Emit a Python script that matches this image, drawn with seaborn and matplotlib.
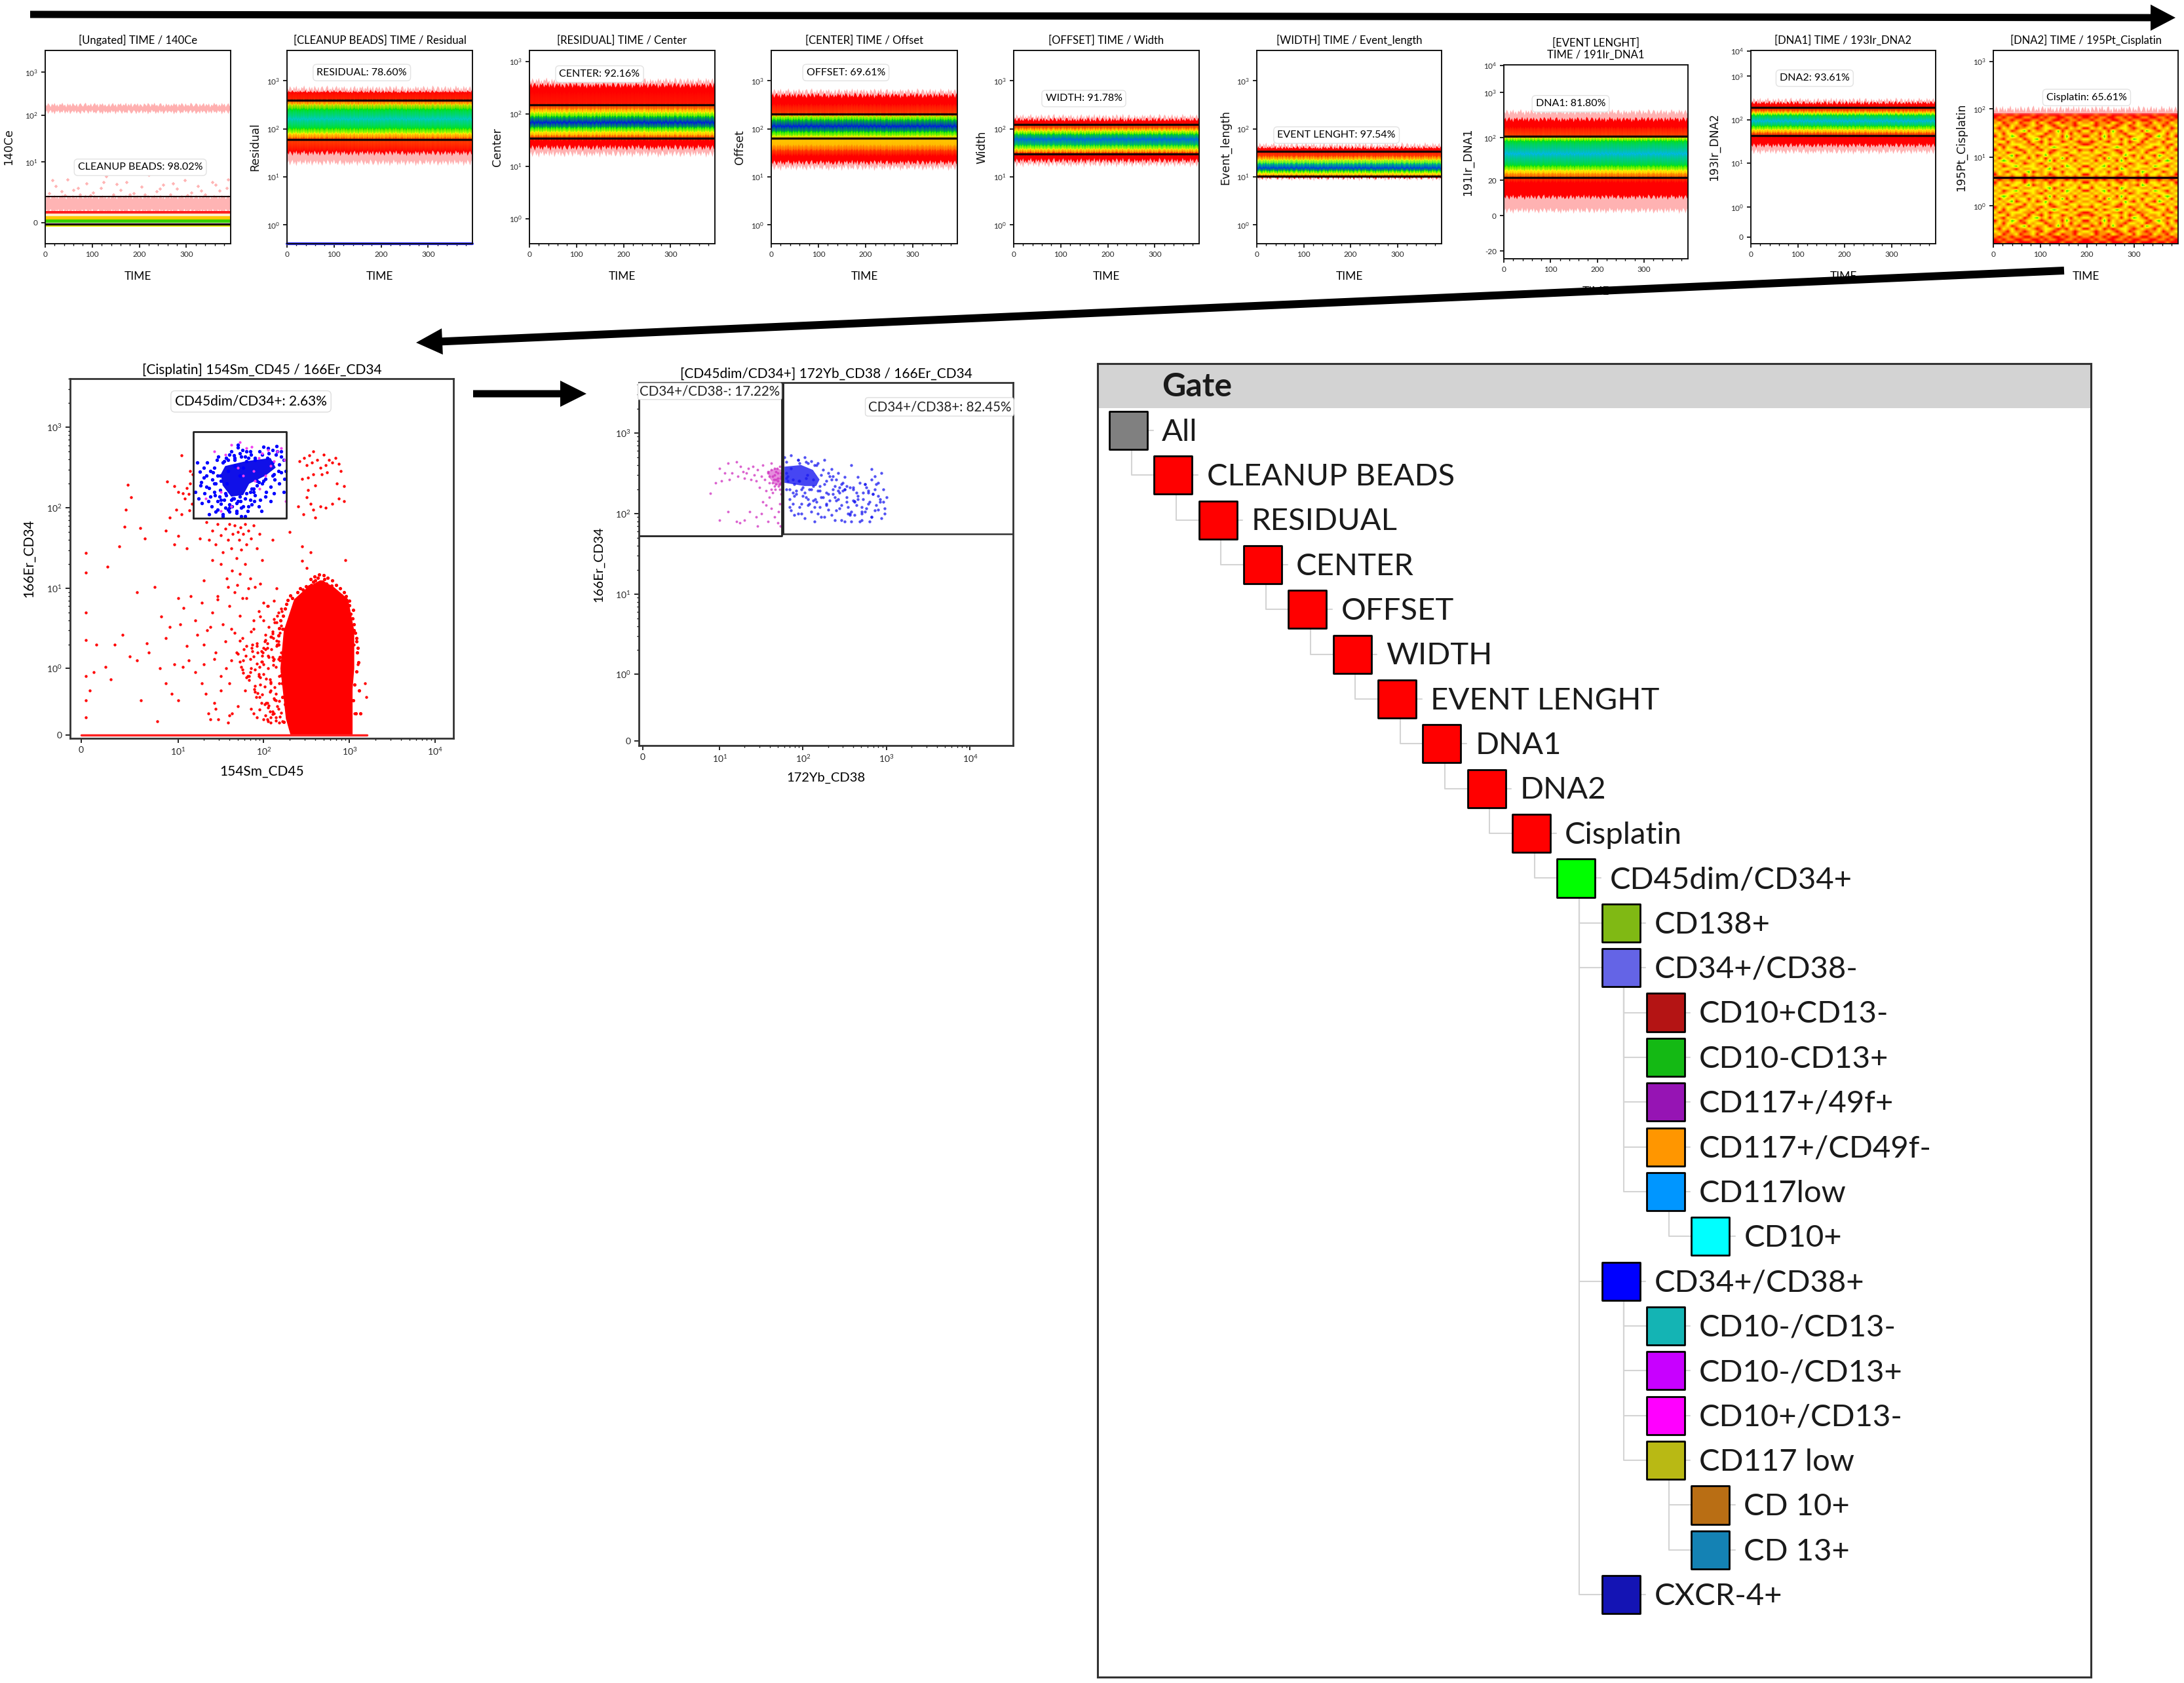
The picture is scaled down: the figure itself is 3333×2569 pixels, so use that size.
import numpy as np
import pandas as pd
import seaborn as sns
from matplotlib import pyplot as plt
from matplotlib.colors import LinearSegmentedColormap
from matplotlib.patches import FancyArrow

sns.set_theme(style='ticks')
plt.rcParams['font.family'] = ['Lato', 'DejaVu Sans']
plt.rcParams['mathtext.default'] = 'regular'

W, H = 3333, 2569

# time strips: one entry per panel
strip_titles = ['[Ungated] TIME / 140Ce', '[CLEANUP BEADS] TIME / Residual', '[RESIDUAL] TIME / Center',
                '[CENTER] TIME / Offset', '[OFFSET] TIME / Width', '[WIDTH] TIME / Event_length',
                '[EVENT LENGHT]\nTIME / 191Ir_DNA1', '[DNA1] TIME / 193Ir_DNA2', '[DNA2] TIME / 195Pt_Cisplatin']
strip_ylabels = ['140Ce', 'Residual', 'Center', 'Offset', 'Width', 'Event_length',
                 '191Ir_DNA1', '193Ir_DNA2', '195Pt_Cisplatin']
strip_gates = ['CLEANUP BEADS: 98.02%', 'RESIDUAL: 78.60%', 'CENTER: 92.16%', 'OFFSET: 69.61%', 'WIDTH: 91.78%',
               'EVENT LENGHT: 97.54%', 'DNA1: 81.80%', 'DNA2: 93.61%', 'Cisplatin: 65.61%']
strip_left = [69, 438, 808, 1177, 1547, 1918, 2295, 2672, 3042]
strip_right = [352, 721, 1091, 1461, 1830, 2200, 2576, 2954, 3324]
strip_top = [77, 77, 77, 77, 77, 77, 99, 77, 77]
strip_bottom = [372, 372, 372, 372, 372, 372, 395, 372, 372]
strip_ylim = [(-0.45, 3.665), (-0.39, 3.63), (-0.48, 3.21), (-0.39, 3.63), (-0.39, 3.63), (-0.39, 3.63),
              (-0.95, 3.34), (-0.835, 3.59), (-0.786, 3.24)]
strip_ticks = [[0, 1.29, 2.29, 3.2], [0, 1, 2, 3], [0, 1, 2, 3], [0, 1, 2, 3], [0, 1, 2, 3], [0, 1, 2, 3],
               [-0.78, 0, 0.787, 1.729, 2.729, 3.33], [-0.685, 0, 1.015, 2, 3, 3.58], [0, 1.02, 2.02, 3.01]]
strip_ticklabels = [['0', '$10^1$', '$10^2$', '$10^3$'], ['$10^0$', '$10^1$', '$10^2$', '$10^3$'],
                    ['$10^0$', '$10^1$', '$10^2$', '$10^3$'], ['$10^0$', '$10^1$', '$10^2$', '$10^3$'],
                    ['$10^0$', '$10^1$', '$10^2$', '$10^3$'], ['$10^0$', '$10^1$', '$10^2$', '$10^3$'],
                    ['-20', '0', '20', '$10^2$', '$10^3$', '$10^4$'],
                    ['0', '$10^0$', '$10^1$', '$10^2$', '$10^3$', '$10^4$'],
                    ['$10^0$', '$10^1$', '$10^2$', '$10^3$']]
ylabel_dist = [47, 40, 40, 39, 40, 39, 46, 47, 40]
gate_high = [0.56, 2.60, 2.175, 2.31, 2.09, 1.53, 1.754, 2.29, 0.59]
gate_low = [-0.03, 1.78, 1.53, 1.80, 1.48, 1.02, 0.85, 1.64, None]
label_x = [202, 159, 149, 158, 149, 170, 143, 136, 199]
label_y = [1.177, 3.17, 2.76, 3.17, 2.63, 1.87, 2.48, 2.955, 2.26]

# outer limits of the red event band (faint fringe and solid part)
fringe_top = [None, 2.84, 2.63, 2.78, 2.25, 1.66, 2.30, 2.45, 2.02]
solid_top = [None, 2.76, 2.55, 2.70, 2.19, 1.60, 2.14, 2.39, None]
solid_bottom = [None, 1.50, 1.36, 1.30, 1.34, 1.00, 0.42, 1.42, None]
fringe_bottom = [None, 1.30, 1.24, 1.20, 1.27, 0.985, 0.12, 1.28, None]

# density level across each band: 0 red, 1 orange, 2 yellow, 3 green, 5 cyan, 6 blue
profile_y = [None,
             [2.75, 2.60, 2.50, 2.40, 2.20, 2.00, 1.90, 1.80, 1.55],
             [2.40, 2.175, 2.08, 2.02, 1.94, 1.83, 1.73, 1.65, 1.58, 1.50],
             [2.50, 2.31, 2.25, 2.18, 2.05, 1.93, 1.85, 1.80, 1.65, 1.55, 1.45],
             [2.15, 2.09, 2.00, 1.95, 1.88, 1.78, 1.65, 1.57, 1.50, 1.45],
             [1.58, 1.53, 1.42, 1.35, 1.27, 1.18, 1.12, 1.07, 1.02, 1.00],
             [1.95, 1.754, 1.72, 1.65, 1.37, 1.10, 1.00, 0.93, 0.85, 0.75],
             [2.35, 2.29, 2.20, 2.15, 2.10, 1.97, 1.85, 1.77, 1.70, 1.62],
             None]
profile_level = [None,
                 [0, 0.3, 1.7, 3, 4.6, 3, 2, 0.6, 0],
                 [0, 0.2, 1, 2, 3, 6, 3, 2, 1, 0],
                 [0, 0.5, 2.2, 3, 6, 3, 2.2, 1.5, 1.3, 0.5, 0],
                 [0, 0.1, 0.8, 2, 3, 5.5, 3.2, 2, 0.5, 0],
                 [0, 0.1, 0.5, 2, 3.5, 5.8, 3, 2, 1, 0],
                 [0, 0.6, 2, 3, 5, 3, 2, 1.2, 0.5, 0],
                 [0, 0.1, 0.7, 2, 3, 5, 3, 2, 0.8, 0],
                 None]

# first strip is built from flat bands instead of a density profile
ungated_lo = [2.36, 0.25, 0.19, 0.13, 0.06, 0.0, -0.09]
ungated_hi = [2.51, 0.55, 0.25, 0.19, 0.13, 0.06, -0.05]
ungated_color = ['#ffb0b0', '#ffb4b4', '#ff2020', '#ffecc8', '#ffc800', '#38d000', '#e8f000']
ungated_sparse_x = [8, 22, 35, 48, 60, 74, 88, 102, 118, 130, 145, 160, 172, 188, 205, 220, 236, 250, 266, 280, 296, 310,
                    324, 340, 355, 370, 385, 15, 42, 70, 96, 124, 152, 180, 212, 244, 272, 302, 332, 362, 388]
ungated_sparse_y = [0.62, 0.78, 0.66, 0.92, 0.7, 0.6, 0.84, 0.64, 0.74, 0.98, 0.6, 0.7, 0.86, 0.62, 0.76, 1.02, 0.66, 0.8,
                    0.6, 0.72, 0.9, 0.64, 0.78, 0.6, 0.86, 0.68, 0.74, 0.9, 0.58, 0.74, 0.58, 0.86, 0.82, 0.6, 0.6,
                    0.72, 0.84, 0.58, 0.68, 0.8, 0.92]

# top and bottom outline of the event band along TIME
ripple_a = [0.4, -0.5, 0.8, 0.1, -0.9, 0.6, -0.2, 0.9, -0.6, 0.3, -0.8, 0.5, 0.0, 1.0, -0.4, 0.2,
            -1.0, 0.7, -0.3, 0.5, -0.7, 0.9, 0.1, -0.5, 0.6, -0.9, 0.3, 0.8, -0.2, -0.7, 0.4, 1.0,
            -0.6, 0.1, -0.4, 0.7, -0.8, 0.2, 0.9, -0.3, 0.5, -1.0, 0.6, -0.1, 0.8, -0.5, 0.3, -0.7]
ripple_b = [-0.3, 0.7, -0.8, 0.2, 0.9, -0.5, 0.4, -1.0, 0.6, 0.0, 0.8, -0.6, 0.3, -0.2, 1.0, -0.7,
            0.5, -0.4, 0.9, -0.9, 0.1, 0.6, -0.3, 0.8, -0.7, 0.4, -0.1, -0.9, 0.7, 0.2, -0.5, 0.9,
            0.3, -0.8, 0.6, -0.2, 1.0, -0.4, 0.1, -0.7, 0.5, 0.8, -0.6, 0.2, -1.0, 0.7, -0.3, 0.4]
edge_a = np.array(ripple_a + ripple_b + ripple_a[::-1])
edge_b = np.array(ripple_b + ripple_a[::-1] + ripple_b[::-1])

# cisplatin strip density, top to bottom, 0 red to 3 green
cisplatin_density = ['0010010001001000100100',
                     '0101100110010110011010',
                     '1011011001101100101101',
                     '1201120112021012011021',
                     '2110211012102101211012',
                     '1021201121012210102120',
                     '2112012302112013021102',
                     '1202211021220112120211',
                     '0211320122101212031120',
                     '2102112012312021120212',
                     '1220211202102122012101',
                     '2011222110212011221210',
                     '1202102212021232102022',
                     '0212210121102101221201',
                     '2120122021222012102212',
                     '1212301212013122120121',
                     '2021212202120211302112',
                     '1232021121221302112021',
                     '2112212012102121221212',
                     '1201231222120212032120',
                     '2122102112212301212202',
                     '1210221230112122021212',
                     '0212122021212012122120',
                     '1011011010110101101011']

# CD45 / CD34 plot, log10 of the event positions
red_x = [2.42, 2.47, 2.5, 2.53, 2.56, 2.58, 2.62, 2.66, 2.7, 2.72, 2.76, 2.8, 2.84, 2.88, 2.9, 2.74, 2.68, 2.58,
         2.52, 2.45, 2.94, 2.85, 2.6, 2.52, 2.5, 2.55, 2.58, 2.66, 2.72, 2.8, 2.88, 2.94, 2.46, 2.6, 2.4,
         1.04, 0.87, 0.95, 1.0, 1.05, 1.12, 1.14, 1.1, 1.08, 0.98, 1.04, 1.13, 1.16, 0.9, 1.17, 1.14,
         0.38, 0.42, 0.35, 0.33, 0.54, 0.6, -0.76, 0.25, 0.05, 0.85, 0.95, 1.0, 1.1, 1.25,
         1.33, 1.36, 1.4, 1.44, 1.46, 1.5, 1.52, 1.55, 1.58, 1.6, 1.62, 1.64, 1.66, 1.68, 1.7, 1.71, 1.73, 1.74, 1.76,
         1.78, 1.8, 1.82, 1.85, 1.88, 1.92, 1.95, 1.98, 2.1, 2.3, 2.45, 2.55, 1.4, 1.5, 1.57, 1.63, 1.69, 1.72, 1.78,
         1.84, 1.9, 1.3, 1.46, 1.58, 1.66, 1.75, 1.82, 1.96, 2.0, 2.15, 2.45, 2.5, 2.95,
         0.5, 0.72, 0.8, 0.9, 1.0, 1.06, 1.15, 1.2, 1.28, 1.34, 1.4, 1.46, 1.52, 1.6, 1.66, 1.72, 1.8, 1.88, 1.94,
         2.0, 2.05, 2.12, 0.3, 0.62, 0.85, 1.02, 1.1, 1.22, 1.3, 1.38, 1.44, 1.55, 1.62, 1.68, 1.75, 1.85, 1.92, 0.4,
         0.18, -0.2, 0.02, 0.5, 0.65, 0.78, 0.95, 1.05, 1.12, 1.2, 1.3, 1.42, 1.5, 1.56, 1.62, -0.75, -0.76, -0.75,
         -0.3, -0.45, 0.12, 0.85, 0.92, 1.0, 1.28, 1.32, 1.42, 1.5, 1.6, 1.35, 1.47, 1.6, -0.76, -0.75, -0.76, 0.55,
         0.75, 1.38, 1.44, 1.58, 1.63, 1.7,
         1.72, 1.76, 1.8, 1.84, 1.88, 1.92, 1.96, 2.0, 2.04, 2.08, 2.12, 2.16, 1.78, 1.83, 1.87, 1.91, 1.95, 1.99,
         2.03, 2.07, 2.11, 2.15, 2.19, 1.85, 1.9, 1.94, 1.98, 2.02, 2.06, 2.1, 2.14, 2.18, 1.92, 1.97, 2.01, 2.05,
         2.09, 2.13, 2.17, 2.05, 2.1, 2.14, 2.18, 2.22, 2.08, 2.16, 2.24, 2.12, 2.2, 2.04, 1.96, 1.88, 2.0, 2.08,
         3.05, 3.1, 3.18, 3.0, 3.06, 3.2, 3.02,
         1.7, 1.74, 1.77, 1.81, 1.84, 1.87, 1.9, 1.93, 1.96, 1.98, 2.01, 2.03, 2.05, 2.07, 2.09, 2.11, 2.13, 2.15, 2.17,
         2.19, 2.21, 1.72, 1.76, 1.79, 1.83, 1.86, 1.89, 1.92, 1.95, 1.97, 2.0, 2.02, 2.04, 2.06, 2.08, 2.1, 2.12, 2.14,
         2.16, 2.18, 2.2, 2.22, 1.75, 1.8, 1.85, 1.9, 1.94, 1.98, 2.02, 2.05, 2.08, 2.11, 2.14, 2.17, 2.2, 2.22, 1.88,
         1.93, 1.97, 2.01, 2.04, 2.07, 2.1, 2.13, 2.16, 2.19, 2.21, 1.95, 2.0, 2.04, 2.08, 2.12, 2.15, 2.18, 2.21,
         2.02, 2.06, 2.1, 2.14, 2.17, 2.2, 2.23]
red_y = [2.58, 2.62, 2.53, 2.65, 2.56, 2.7, 2.6, 2.5, 2.66, 2.53, 2.6, 2.56, 2.62, 2.55, 2.46, 2.44, 2.42, 2.42,
         2.38, 2.36, 2.27, 2.3, 2.28, 2.22, 2.13, 2.05, 1.98, 2.02, 2.0, 2.05, 2.12, 2.08, 1.92, 1.88, 2.02,
         2.65, 2.33, 2.27, 2.2, 2.18, 2.17, 2.3, 2.25, 2.12, 1.98, 1.92, 1.97, 2.05, 1.88, 2.42, 2.46,
         2.29, 2.13, 1.98, 1.77, 1.75, 1.62, 1.44, 1.52, 1.27, 1.72, 1.55, 1.65, 1.5, 1.62,
         1.82, 1.6, 1.72, 1.55, 1.8, 1.66, 1.45, 1.74, 1.6, 1.8, 1.5, 1.68, 1.78, 1.38, 1.7, 1.6, 1.76, 1.48, 1.68,
         1.8, 1.55, 1.72, 1.62, 1.78, 1.5, 1.68, 1.35, 1.6, 1.7, 1.52, 1.45, 1.35, 1.3, 1.12, 1.22, 1.04, 1.18, 1.3,
         1.12, 1.02, 1.1, 0.9, 1.02, 0.95, 0.88, 1.0, 1.06, 0.82, 1.0, 1.34, 1.25, 1.35,
         0.95, 1.02, 0.65, 0.52, 0.88, 0.76, 0.9, 0.6, 0.82, 0.48, 0.7, 0.86, 0.55, 0.78, 0.45, 0.66, 0.88, 0.5, 0.72,
         0.6, 0.78, 0.85, 0.42, 0.32, 0.38, 0.55, 0.28, 0.42, 0.3, 0.52, 0.2, 0.34, 0.5, 0.2, 0.38, 0.46, 0.28, 0.15,
         0.3, 0.3, 0.02, 0.1, 0.2, 0.0, 0.05, 0.02, 0.1, -0.05, 0.05, 0.12, -0.1, 0.0, 0.1, 1.2, 0.7, 0.36,
         -0.05, -0.3, -0.15, -0.2, -0.35, -0.45, -0.2, -0.35, -0.5, -0.3, -0.2, -0.7, -0.85, -0.75, -0.1, -0.45, -0.8,
         -0.45, -0.9, -0.85, -0.6, -0.95, -0.7, -0.55,
         0.35, 0.1, 0.28, -0.05, 0.15, 0.32, -0.12, 0.05, 0.26, -0.2, 0.12, 0.3, -0.3, -0.1, 0.22, -0.4, 0.02, 0.2,
         -0.5, -0.15, 0.1, 0.35, 0.45, -0.6, -0.32, -0.08, 0.16, 0.42, 0.52, -0.72, -0.45, -0.2, -0.8, -0.5, -0.25, 0.0,
         0.24, 0.58, 0.7, -0.9, -0.65, -0.35, -0.1, 0.5, -0.8, -0.55, -0.25, 0.62, 0.75, 0.78, 0.65, -0.7, -0.85, -0.95,
         0.3, 0.05, -0.2, -0.5, -0.7, -0.4, 0.45,
         0.18, 0.02, 0.24, -0.1, 0.12, 0.3, -0.02, 0.2, -0.22, 0.08, 0.34, -0.14, 0.16, -0.32, 0.4, 0.04, -0.44, 0.28,
         -0.6, 0.1, -0.2, 0.08, -0.06, 0.16, -0.16, 0.26, -0.28, 0.06, -0.4, 0.22, -0.08, 0.36, -0.5, 0.14, -0.3, 0.44,
         -0.7, 0.02, 0.3, -0.46, 0.2, 0.5, -0.02, -0.12, 0.0, -0.24, -0.1, -0.36, 0.24, -0.58, -0.18, 0.38, -0.8, 0.12,
         0.54, -0.9, 0.6, -0.34, 0.08, -0.52, 0.32, -0.66, 0.46, -0.26, 0.66, -0.78, -0.04, -0.62, 0.26, -0.84, 0.4,
         -0.42, 0.58, -0.96, 0.72, -0.74, -0.54, 0.14, -0.88, 0.34, -0.68, 0.5]

# rim of the CD45high population, real values
rim_x = [172, 178, 185, 190, 196, 200, 205, 212, 218, 225, 232, 240, 250, 262, 275, 290, 305, 320, 340, 360, 380,
         400, 425, 450, 480, 510, 540, 580, 620, 660, 700, 750, 800, 850, 900, 950, 1000, 1040, 1080, 1120, 1160, 1200,
         1240, 1280, 1200, 1150, 1100, 1180, 1260, 1130, 1220, 165, 160, 155, 150, 148, 152, 158, 168, 176, 184, 192,
         204, 216, 230, 246, 264, 285, 310, 350, 390, 440, 500, 560, 630, 700, 780, 860, 920, 1000, 1300, 1340, 1100]
rim_y = [0.12, 0.3, 0.5, 0.7, 0.9, 1.2, 1.6, 2.1, 2.8, 3.6, 4.8, 5.8, 6.6, 7.4, 8.0, 8.6, 8.9, 9.2, 10.6, 11.0, 12.0,
         12.6, 13.5, 11.2, 12.0, 13.0, 11.5, 9.8, 10.8, 8.4, 9.2, 7.8, 8.2, 6.8, 7.2, 5.6, 6.2, 4.8, 4.2, 3.6, 2.8, 2.2,
         1.6, 1.2, 0.9, 0.6, 0.35, 0.2, 1.8, 3.0, 2.4, 0.4, 0.8, 1.4, 2.0, 2.6, 3.2, 4.0, 4.6, 5.6, 6.4, 7.2, 8.2,
         7.6, 6.8, 9.0, 10.0, 9.6, 10.6, 13.0, 14.0, 15.0, 14.5, 13.5, 12.5, 11.0, 10.0, 9.0, 8.0, 7.0, 0.5, 0.2, 5.4]
blob_y = [0, 0.15, 0.53, 1, 3, 7.4, 10.4, 12.7]
blob_left = [205, 180, 165, 155, 170, 225, 320, 450]
blob_right = [1080, 1080, 1080, 1130, 1130, 960, 660, 480]

blue_core_x = [1.55, 1.79, 2.08, 2.14, 2.02, 1.83, 1.76, 1.62, 1.52, 1.5]
blue_core_y = [2.52, 2.58, 2.62, 2.5, 2.4, 2.3, 2.16, 2.14, 2.28, 2.42]
blue_x = [1.22, 1.25, 1.27, 1.3, 1.33, 1.36, 1.38, 1.4, 1.42, 1.45, 1.2, 1.24, 1.28, 1.31, 1.35, 1.39, 1.43, 1.26,
          1.3, 1.34, 1.38, 1.42, 1.47, 1.5, 1.55, 1.6, 1.65, 1.7, 1.75, 1.8, 1.85, 1.9, 1.95, 2.0, 2.05, 2.1, 2.15,
          2.2, 2.23, 1.52, 1.58, 1.63, 1.68, 1.74, 1.78, 1.84, 1.88, 1.92, 1.98, 2.03, 2.08, 2.13, 2.18, 2.24, 1.46,
          1.5, 1.56, 1.62, 1.7, 1.76, 1.82, 1.9, 1.96, 2.02, 2.08, 1.36, 1.44, 1.52, 1.6, 1.68, 1.74, 1.86, 1.94, 2.12,
          1.33, 1.41, 1.49, 1.57, 1.65, 1.73, 1.81, 1.89, 1.97, 2.2, 2.26, 2.23, 1.58, 1.66, 1.72, 1.8,
          1.46, 1.49, 1.52, 1.55, 1.58, 1.62, 1.66, 1.7, 1.74, 1.78, 1.82, 1.86, 1.9, 1.94, 1.98, 2.02, 2.06, 2.1, 2.14,
          2.17, 1.44, 1.48, 1.54, 1.6, 1.68, 1.76, 1.84, 1.92, 2.0, 2.12, 1.42, 1.46, 1.5, 1.56, 1.64, 1.72, 1.8, 1.88,
          1.54, 1.6, 1.66, 1.72, 1.78, 1.84, 2.18, 2.2, 2.16, 2.1, 2.04]
blue_y = [2.56, 2.45, 2.32, 2.5, 2.4, 2.25, 2.14, 2.35, 2.5, 2.6, 2.2, 2.12, 2.06, 2.18, 2.08, 2.02, 2.16, 2.28,
          2.38, 2.56, 2.46, 2.3, 2.64, 2.05, 2.0, 1.95, 2.65, 2.75, 2.72, 2.7, 2.66, 2.62, 2.7, 2.76, 2.74, 2.72, 2.77,
          2.7, 2.6, 1.92, 1.98, 2.02, 1.94, 2.0, 1.9, 2.1, 2.2, 2.28, 2.3, 2.2, 2.26, 2.35, 2.3, 2.36, 1.98,
          2.1, 2.62, 2.7, 2.78, 2.5, 2.02, 2.16, 2.1, 2.14, 2.08, 1.92, 1.95, 1.9, 2.0, 1.96, 1.9, 2.04, 2.02, 2.18,
          2.26, 2.44, 2.4, 2.3, 2.12, 2.08, 1.96, 2.08, 1.96, 2.44, 2.46, 2.2, 2.46, 2.52, 2.4, 2.58,
          2.4, 2.22, 2.56, 2.18, 2.6, 2.1, 2.62, 2.08, 2.64, 2.12, 2.62, 2.24, 2.6, 2.32, 2.66, 2.36, 2.68, 2.4, 2.66,
          2.46, 2.3, 2.14, 2.1, 2.04, 2.06, 2.02, 2.2, 2.34, 2.34, 2.42, 2.2, 2.08, 2.34, 2.16, 2.12, 2.14, 2.18, 2.24,
          2.58, 2.66, 2.6, 2.68, 2.64, 2.7, 2.54, 2.64, 2.7, 2.56, 2.62]
gate_mag_x = [1.42, 1.55, 1.62, 1.72, 1.8, 1.86, 1.94, 1.98, 2.05, 2.12, 2.16, 2.2, 1.7, 1.76, 1.88, 2.02, 1.32, 1.5,
              1.9, 2.08, 1.5, 1.62, 1.95, 2.24, 2.26]
gate_mag_y = [2.7, 2.66, 2.78, 2.82, 2.74, 2.76, 2.62, 2.68, 2.72, 2.58, 2.7, 2.74, 2.5, 2.4, 2.46, 2.4, 2.12, 1.96,
              2.34, 2.52, 2.2, 2.02, 2.24, 2.6, 2.08]

# CD38 / CD34 plot, log10 of the event positions
cd38_hi_core_x = [1.78, 1.98, 2.12, 2.2, 2.16, 2.02, 1.9, 1.78]
cd38_hi_core_y = [2.58, 2.6, 2.54, 2.42, 2.34, 2.34, 2.36, 2.38]
cd38_hi_x = [1.78, 1.82, 1.86, 1.9, 1.94, 1.98, 2.02, 2.06, 2.1, 2.14, 2.18, 2.22, 2.26, 2.3, 2.34, 2.38, 2.42, 2.46,
             2.5, 2.54, 2.58, 2.62, 2.66, 2.7, 2.74, 2.78, 2.82, 2.86, 2.9, 2.94, 2.98, 3.0, 1.8, 1.86, 1.92, 1.98, 2.04,
             2.1, 2.16, 2.22, 2.28, 2.34, 2.4, 2.46, 2.52, 2.58, 2.64, 2.7, 2.76, 2.82, 2.88, 2.94, 1.84, 1.9, 1.96, 2.02,
             2.08, 2.14, 2.2, 2.26, 2.32, 2.38, 2.44, 2.5, 2.56, 2.62, 2.68, 2.74, 2.8, 2.86, 2.92, 2.98, 1.88, 2.0, 2.12,
             2.24, 2.36, 2.48, 2.6, 2.72, 2.84, 2.96, 2.52, 2.56, 2.6, 2.64, 2.68, 2.72, 2.76, 2.8, 2.84, 2.88, 2.92, 2.54,
             2.58, 2.62, 2.66, 2.7, 2.74, 2.78, 2.82, 2.86, 2.9, 1.8, 1.95, 2.05, 2.15, 2.3, 2.42, 2.5, 2.66, 2.78, 2.9,
             1.84, 1.94, 2.06, 2.18, 2.28, 2.4, 2.56, 2.7, 2.82, 2.96,
             1.8, 1.84, 1.88, 1.92, 1.96, 2.0, 2.04, 2.08, 2.12, 2.16, 2.2, 2.24, 2.28, 2.32, 2.36, 2.4, 2.44, 2.48, 1.82,
             1.86, 1.9, 1.94, 1.98, 2.02, 2.06, 2.1, 2.14, 2.18, 2.22, 2.26, 2.3, 2.34, 2.38, 2.42, 2.46, 2.5, 1.8, 1.88,
             1.96, 2.04, 2.12, 2.2, 2.28, 2.36, 2.44, 2.52, 2.6]
cd38_hi_y = [2.7, 2.46, 2.72, 2.22, 2.66, 2.12, 2.7, 2.18, 2.65, 2.08, 2.62, 2.2, 2.66, 2.05, 2.55, 2.2, 2.5, 2.1,
             2.45, 2.0, 2.6, 2.15, 2.45, 2.0, 2.36, 2.12, 2.55, 2.3, 2.05, 2.5, 2.0, 2.2, 2.3, 2.04, 2.24, 2.0, 2.2,
             2.02, 2.14, 1.96, 2.12, 1.98, 2.16, 1.92, 2.14, 1.9, 2.1, 1.92, 2.06, 1.96, 2.1, 1.94, 2.18, 1.98, 2.08,
             1.94, 2.12, 1.9, 2.08, 1.96, 2.16, 1.92, 2.06, 1.9, 2.0, 1.98, 1.9, 2.02, 1.9, 2.04, 2.14, 2.06, 2.12, 2.22,
             2.16, 2.2, 2.24, 2.28, 2.3, 2.26, 2.24, 2.3, 2.2, 2.32, 2.16, 2.26, 2.38, 2.18, 2.32, 2.14, 2.24, 2.36, 2.18,
             2.08, 2.02, 2.14, 2.22, 2.08, 2.36, 2.28, 2.42, 2.46, 2.38, 2.44, 2.4, 2.48, 2.18, 2.24, 2.18, 2.3, 2.18,
             2.26, 2.22, 2.08, 2.0, 2.1, 2.0, 2.1, 2.04, 1.98, 2.02, 1.96, 2.14,
             2.64, 2.3, 2.26, 2.28, 2.62, 2.32, 2.64, 2.3, 2.34, 2.6, 2.34, 2.54, 2.26, 2.46, 2.3, 2.42, 2.32, 2.38, 2.4,
             2.56, 2.36, 2.66, 2.3, 2.26, 2.62, 2.3, 2.6, 2.28, 2.48, 2.36, 2.5, 2.42, 2.34, 2.28, 2.36, 2.3, 2.5, 2.42,
             2.4, 2.44, 2.42, 2.28, 2.4, 2.46, 2.26, 2.34, 2.32]
cd38_lo_core_x = [1.58, 1.68, 1.75, 1.75, 1.66, 1.6]
cd38_lo_core_y = [2.52, 2.56, 2.54, 2.34, 2.36, 2.44]
cd38_lo_x = [0.88, 0.95, 1.0, 1.02, 1.06, 1.1, 1.12, 1.15, 1.2, 1.22, 1.25, 1.28, 1.3, 1.32, 1.35, 1.38, 1.4, 1.42, 1.44,
             1.46, 1.48, 1.5, 1.52, 1.54, 1.56, 1.58, 1.6, 1.62, 1.64, 1.66, 1.68, 1.7, 1.72, 1.74, 1.72, 1.7, 1.68, 1.66,
             1.64, 1.62, 1.6, 1.58, 1.74, 1.72, 1.7, 1.68, 1.66, 1.64, 1.62, 1.6, 1.74, 1.73, 1.71, 1.69, 1.67, 1.65, 1.56,
             1.5, 1.44, 1.36, 1.3, 1.24, 1.2, 1.1, 1.0, 1.58, 1.62, 1.66, 1.7, 1.72, 1.74, 1.73, 1.71, 1.52, 1.46]
cd38_lo_y = [2.25, 2.38, 2.56, 2.4, 2.5, 2.62, 2.42, 2.5, 2.64, 2.46, 2.58, 2.52, 2.44, 2.5, 2.56, 2.42, 2.58, 2.48,
             2.4, 2.54, 2.32, 2.46, 2.6, 2.42, 2.28, 2.5, 2.38, 2.62, 2.46, 2.34, 2.52, 2.4, 2.58, 2.46, 2.36, 2.5, 2.42,
             2.56, 2.38, 2.3, 2.46, 2.52, 2.38, 2.3, 2.44, 2.36, 2.48, 2.26, 2.54, 2.2, 2.5, 2.44, 2.34, 2.56, 2.3, 2.42,
             2.1, 2.0, 1.96, 2.02, 1.92, 1.88, 1.9, 2.02, 1.92, 1.9, 2.06, 1.96, 1.88, 2.12, 2.24, 1.84, 2.02, 2.14, 1.84]

# gating tree
gate_names = ['All', 'CLEANUP BEADS', 'RESIDUAL', 'CENTER', 'OFFSET', 'WIDTH', 'EVENT LENGHT', 'DNA1', 'DNA2',
              'Cisplatin', 'CD45dim/CD34+', 'CD138+', 'CD34+/CD38-', 'CD10+CD13-', 'CD10-CD13+', 'CD117+/49f+',
              'CD117+/CD49f-', 'CD117low', 'CD10+', 'CD34+/CD38+', 'CD10-/CD13-', 'CD10-/CD13+', 'CD10+/CD13-',
              'CD117 low', 'CD 10+', 'CD 13+', 'CXCR-4+']
gate_levels = [0, 1, 2, 3, 4, 5, 6, 7, 8, 9, 10, 11, 11, 12, 12, 12, 12, 12, 13, 11, 12, 12, 12, 12, 13, 13, 11]
gate_colors = ['#808080', '#ff0000', '#ff0000', '#ff0000', '#ff0000', '#ff0000', '#ff0000', '#ff0000', '#ff0000',
               '#ff0000', '#00ff00', '#80b914', '#6464e6', '#b41414', '#14b914', '#9614b4', '#ff9600', '#0096ff',
               '#00ffff', '#0000ff', '#14b4b4', '#c800ff', '#ff00ff', '#b9b914', '#b96e14', '#1482b4', '#1414b4']

decade_minor = [m * 10 ** d for d in range(0, 3) for m in range(2, 10)] + [2000, 3000, 4000]

rainbow = LinearSegmentedColormap.from_list('density', ['#ff0000', '#ff9900', '#ffff00', '#00e600', '#00e6a0',
                                                        '#00b4ff', '#0000ff'])


def add_axes(fig, left, right, top, bottom):
    # axes from pixel edges of the final picture
    return fig.add_axes([left / W, 1 - bottom / H, (right - left) / W, (bottom - top) / H])


def draw_strip(fig, i):
    ax = add_axes(fig, strip_left[i], strip_right[i], strip_top[i], strip_bottom[i])
    time_grid = np.linspace(0, 394, len(edge_a))
    a, b = edge_a, edge_b

    if i == 0:
        for lo, hi, col in zip(ungated_lo, ungated_hi, ungated_color):
            wob = 0.05 if hi - lo > 0.1 else 0.0
            ax.fill_between(time_grid, lo + b * wob, hi + a * wob, color=col, lw=0)
        sns.scatterplot(x=ungated_sparse_x, y=ungated_sparse_y, color='#ffb4b4', s=8, marker='D', linewidth=0, ax=ax)
    elif i == 8:
        d = np.array([[int(c) for c in row] for row in cisplatin_density])
        dens = np.block([[d, d[:, ::-1]], [d[::-1, :], d[::-1, ::-1]]])
        ax.imshow(dens, cmap=rainbow, vmin=0, vmax=6.2, aspect='auto', interpolation='bilinear',
                  extent=(0, 394, strip_ylim[i][0], 1.92))
        ax.fill_between(time_grid, 1.9, fringe_top[i] + a * 0.08, color='#ff6060', lw=0, alpha=0.5)
    else:
        ax.fill_between(time_grid, fringe_bottom[i] + b * 0.07, fringe_top[i] + a * 0.07,
                        color='#ff8080', lw=0, alpha=0.6)
        ax.fill_between(time_grid, solid_bottom[i] + a * 0.06, solid_top[i] + b * 0.06, color='#ff0000', lw=0)
        py = np.array(profile_y[i])
        lev = np.array(profile_level[i], dtype=float)
        xx = np.tile(time_grid, (len(py), 1))
        yy = py[:, None] + a[None, :] * 0.02
        ax.pcolormesh(xx, yy, np.tile(lev[:, None], (1, len(time_grid))), cmap=rainbow, vmin=0, vmax=6,
                      shading='gouraud', rasterized=True)

    # gate lines
    for g in [gate_high[i], gate_low[i]]:
        if g is not None:
            sns.lineplot(x=[0, 394], y=[g, g], color='#1a0505', lw=1.5 if (i == 0 and g > 0) else 2.4, ax=ax)
    if i == 1:
        sns.lineplot(x=[0, 394], y=[strip_ylim[i][0]] * 2, color='#3030ff', lw=3, ax=ax, clip_on=False)

    ax.set_xticks([0, 100, 200, 300])
    ax.set_xticks(np.arange(20, 394, 20), minor=True)
    ax.set_yticks(strip_ticks[i])
    ax.set_yticklabels(strip_ticklabels[i])
    ax.set_xlim(0, 394)
    ax.set_ylim(*strip_ylim[i])
    ax.tick_params(axis='both', which='major', length=4, width=1.2, labelsize=8.5, pad=4, color='black')
    ax.tick_params(axis='x', which='minor', length=2.5, width=1, color='black')
    ax.set_title(strip_titles[i], fontsize=12, pad=7, color='black')
    for s in ax.spines.values():
        s.set_linewidth(1.4)
        s.set_color('#111111')
    ax.set_xlabel('TIME', fontsize=12.5, labelpad=14, color='black')
    ax.set_ylabel(strip_ylabels[i], fontsize=12.5, family='DejaVu Sans', color='#111111')
    ax.yaxis.set_label_coords(-ylabel_dist[i] / (strip_right[i] - strip_left[i]), 0.5)
    ax.text(label_x[i], label_y[i], strip_gates[i], fontsize=11.5, ha='center', va='center', color='black',
            bbox=dict(boxstyle='round,pad=0.35', fc='white', ec='#e2e2e2', lw=1))


def asinh_scale(ax, cx, cy, xlim, ylim):
    ax.set_xscale('function', functions=(lambda v: np.arcsinh(v / cx), lambda v: cx * np.sinh(v)))
    ax.set_yscale('function', functions=(lambda v: np.arcsinh(v / cy), lambda v: cy * np.sinh(v)))
    ax.set_xticks([0, 10, 100, 1000, 10000])
    ax.set_xticklabels(['0', '$10^1$', '$10^2$', '$10^3$', '$10^4$'])
    ax.set_xticks([m * 10 ** d for d in range(1, 4) for m in range(2, 10)], minor=True)
    ax.set_yticks([0, 1, 10, 100, 1000])
    ax.set_yticklabels(['0', '$10^0$', '$10^1$', '$10^2$', '$10^3$'])
    ax.set_yticks(decade_minor, minor=True)
    # limits last, setting ticks can widen them
    ax.set_xlim(*xlim)
    ax.set_ylim(*ylim)
    ax.tick_params(axis='both', which='major', length=5, width=1.2, labelsize=10, pad=4, color='black')
    ax.tick_params(axis='both', which='minor', length=2.5, width=1, color='black')
    for s in ax.spines.values():
        s.set_linewidth(2)
        s.set_color('#333333')


def draw_cd45(fig):
    ax = add_axes(fig, 107, 692, 578, 1127)
    sns.scatterplot(x=10 ** np.array(red_x), y=10 ** np.array(red_y), color='#ff0000', s=10, linewidth=0, ax=ax)
    sns.scatterplot(x=rim_x, y=rim_y, color='#ff0000', s=14, linewidth=0, ax=ax)
    ax.fill_betweenx(blob_y, blob_left, blob_right, color='#ff0000', lw=0)
    sns.lineplot(x=[0, 1600], y=[0, 0], color='#ff2020', lw=2.5, ax=ax)
    ax.fill(10 ** np.array(blue_core_x), 10 ** np.array(blue_core_y), color='#1010e8', lw=0)
    sns.scatterplot(x=10 ** np.array(blue_x), y=10 ** np.array(blue_y), color='#0000ff', s=15, linewidth=0, ax=ax)
    sns.scatterplot(x=10 ** np.array(gate_mag_x), y=10 ** np.array(gate_mag_y), color='#f040f0', s=9,
                    linewidth=0, ax=ax)
    asinh_scale(ax, 1.48, 0.3, (-0.447, 16400), (-0.026, 4030))
    # CD45dim/CD34+ gate
    ax.plot([14.9, 184, 184, 14.9, 14.9], [74, 74, 880, 880, 74], color='#222222', lw=2)
    ax.set_title('[Cisplatin] 154Sm_CD45 / 166Er_CD34', fontsize=15, pad=5, color='black')
    ax.set_xlabel('154Sm_CD45', fontsize=15, labelpad=9, color='black')
    ax.set_ylabel('166Er_CD34', fontsize=15, labelpad=12, color='black')
    ax.text(71, 2100, 'CD45dim/CD34+: 2.63%', fontsize=15, ha='center', va='center', color='black',
            bbox=dict(boxstyle='round,pad=0.3', fc='white', ec='#dddddd', lw=1))


def draw_cd38(fig):
    ax = add_axes(fig, 975, 1546, 584, 1138)
    ax.fill(10 ** np.array(cd38_lo_core_x), 10 ** np.array(cd38_lo_core_y), color='#d030c0', lw=0, alpha=0.55)
    ax.fill(10 ** np.array(cd38_hi_core_x), 10 ** np.array(cd38_hi_core_y), color='#1818f0', lw=0, alpha=0.8)
    sns.scatterplot(x=10 ** np.array(cd38_hi_x), y=10 ** np.array(cd38_hi_y), color='#1818f0', s=10, linewidth=0,
                    alpha=0.75, ax=ax)
    sns.scatterplot(x=10 ** np.array(cd38_lo_x), y=10 ** np.array(cd38_lo_y), color='#d030c0', s=8, linewidth=0,
                    alpha=0.75, ax=ax)
    asinh_scale(ax, 2.44, 0.3, (-0.27, 32700), (-0.039, 4200))
    # quadrant gates
    ax.plot([-0.27, 56, 56], [53, 53, 4200], color='#222222', lw=2)
    ax.plot([58, 58], [56, 4200], color='#222222', lw=2)
    ax.plot([58, 32700], [56, 56], color='#333333', lw=1.8)
    ax.set_title('[CD45dim/CD34+] 172Yb_CD38 / 166Er_CD34', fontsize=15, pad=5, color='black')
    ax.set_xlabel('172Yb_CD38', fontsize=14.5, labelpad=9, color='black')
    ax.set_ylabel('166Er_CD34', fontsize=14.5, labelpad=12, color='black')
    ax.text(7.5, 3270, 'CD34+/CD38-: 17.22%', fontsize=14.8, ha='center', va='center', color='#222222',
            bbox=dict(boxstyle='round,pad=0.12', fc='white', ec='#dddddd', lw=1))
    ax.text(4320, 2100, 'CD34+/CD38+: 82.45%', fontsize=14.8, ha='center', va='center', color='#222222',
            bbox=dict(boxstyle='round,pad=0.2', fc='white', ec='#dddddd', lw=1))


def draw_tree(fig):
    ax = add_axes(fig, 1675, 3191, 555, 2560)
    tree = pd.DataFrame({'name': gate_names, 'level': gate_levels, 'row': range(len(gate_names))})

    # connectors from each gate to its parent
    for row, lev in zip(tree['row'], tree['level']):
        ax.plot([lev + 0.42, lev + 0.55], [row, row], color='#d4d4d4', lw=1.5, zorder=1)
        if lev == 0:
            continue
        parent = max(r for r in range(row) if gate_levels[r] == lev - 1)
        x0 = gate_levels[parent] + 0.07
        ax.plot([x0, x0, lev], [parent + 0.4, row, row], color='#d4d4d4', lw=1.5, zorder=1)

    sns.scatterplot(data=tree, x='level', y='row', hue='name', palette=dict(zip(gate_names, gate_colors)),
                    marker='s', s=1750, edgecolor='black', linewidth=2, legend=False, ax=ax, zorder=3)
    for name, row, lev in zip(tree['name'], tree['row'], tree['level']):
        ax.text(lev + 0.75, row + 0.04, name, fontsize=34, ha='left', va='center', color='#1a1a1a')

    ax.axhspan(-1.49, -0.5, color='#d3d3d3', lw=0, zorder=0)
    ax.text(0.75, -0.97, 'Gate', fontsize=36, fontweight='bold', ha='left', va='center', color='#1a1a1a')
    ax.set_xlim(-0.688, 21.5)
    ax.set_ylim(27.84, -1.49)
    ax.set_xticks([])
    ax.set_yticks([])
    ax.set_xlabel('')
    ax.set_ylabel('')
    for s in ax.spines.values():
        s.set_linewidth(2.2)
        s.set_color('#333333')


def draw_arrows(fig):
    # flow arrows sit on top of everything, in picture pixels
    ax = fig.add_axes([0, 0, 1, 1], zorder=10)
    ax.set_xlim(0, W)
    ax.set_ylim(H, 0)
    ax.axis('off')
    ax.add_patch(FancyArrow(46, 22, 3320 - 46, 5, width=11, head_width=40, head_length=38,
                            length_includes_head=True, color='black', lw=0))
    ax.add_patch(FancyArrow(3150, 413, 635 - 3150, 523 - 413, width=12, head_width=40, head_length=40,
                            length_includes_head=True, color='black', lw=0))
    ax.add_patch(FancyArrow(722, 601, 895 - 722, 0, width=11, head_width=40, head_length=40,
                            length_includes_head=True, color='black', lw=0))


def main():
    fig = plt.figure(figsize=(W / 100, H / 100), dpi=100, facecolor='white')
    for i in range(len(strip_titles)):
        draw_strip(fig, i)
    draw_cd45(fig)
    draw_cd38(fig)
    draw_tree(fig)
    draw_arrows(fig)
    fig.savefig('out.png', dpi=100)


if __name__ == '__main__':
    main()
